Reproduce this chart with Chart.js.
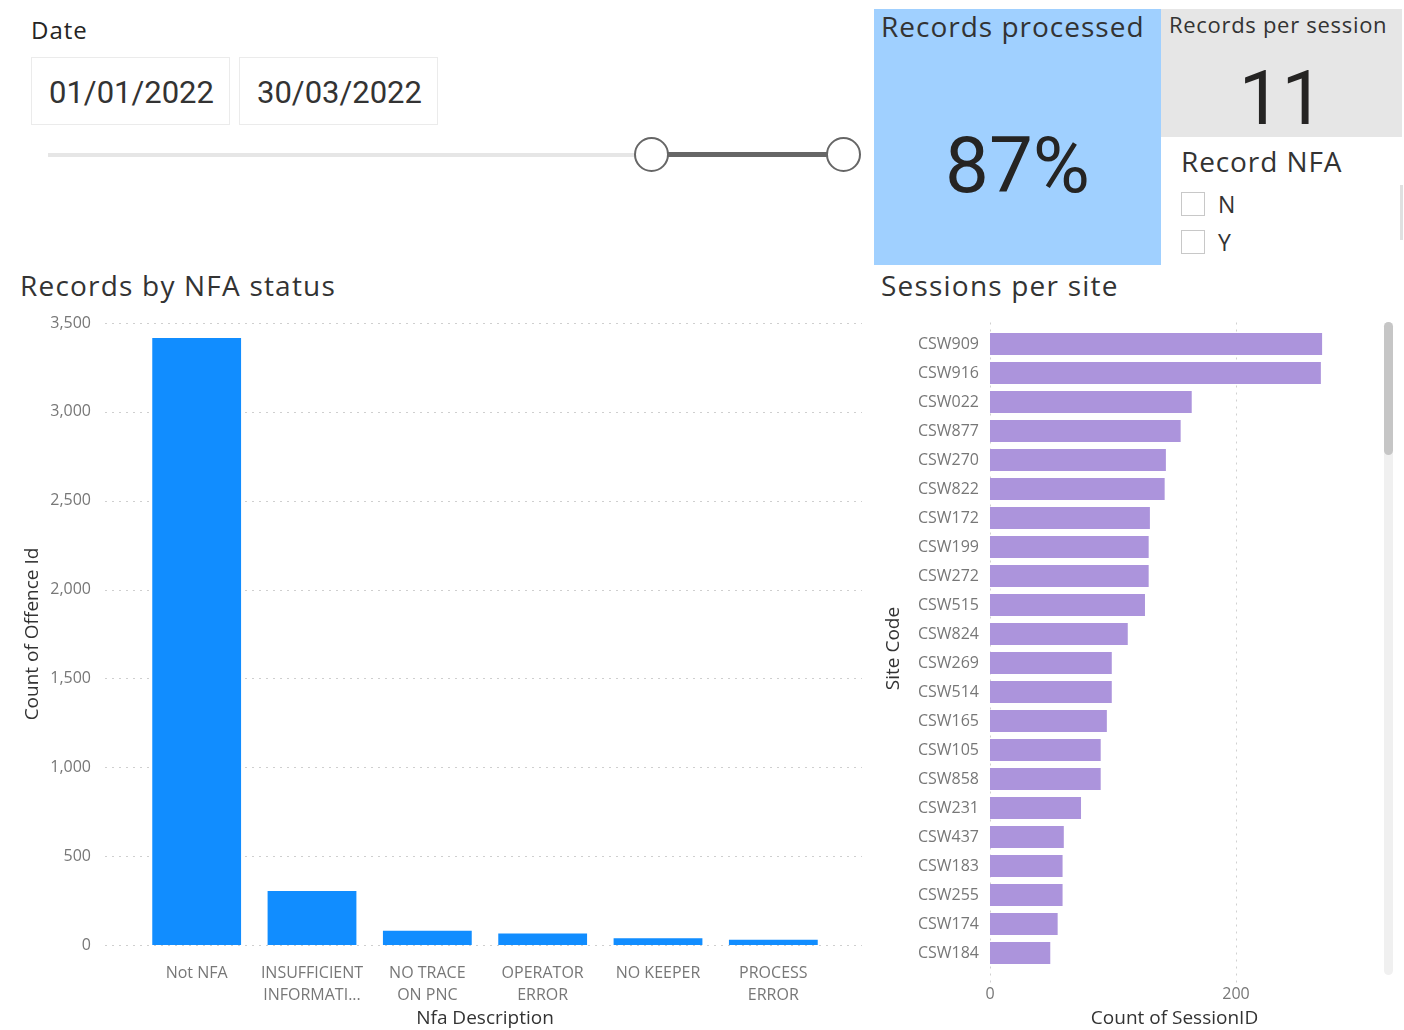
<!DOCTYPE html>
<html>
<head>
<meta charset="utf-8">
<script src="https://cdn.jsdelivr.net/npm/chart.js@4.4.0/dist/chart.umd.min.js"></script>
<style>
  body { margin: 0; width: 1404px; height: 1030px; background: #fff; position: relative; overflow: hidden; font-family: 'Open Sans', sans-serif; color: #252423; }
  .abs { position: absolute; }
  .lbl { line-height: 1; white-space: nowrap; }
  .datebox { position: absolute; top: 57px; height: 68px; border: 1px solid #ebebeb; box-sizing: border-box; font-family: Roboto, sans-serif; font-size: 31px; color: #333; line-height: 70px; padding-left: 17px; }
  .chk { position: absolute; width: 24px; height: 24px; border: 1px solid #c8c8c8; box-sizing: border-box; background: #fff; }
</style>
</head>
<body>

<div class="abs lbl" style="left:31px; top:18px; font-size:24px; letter-spacing:1px;">Date</div>
<div class="datebox" style="left:31px; width:199px;">01/01/2022</div>
<div class="datebox" style="left:239px; width:199px;">30/03/2022</div>

<!-- date slider -->
<div class="abs" style="left:48px; top:153px; width:603px; height:4px; background:#e6e6e6;"></div>
<div class="abs" style="left:651px; top:152px; width:192px; height:5px; background:#666;"></div>
<div class="abs" style="left:634px; top:137px; width:31px; height:31px; border:2.5px solid #666; border-radius:50%; background:#fff;"></div>
<div class="abs" style="left:826px; top:137px; width:31px; height:31px; border:2.5px solid #666; border-radius:50%; background:#fff;"></div>

<!-- cards -->
<div class="abs" style="left:874px; top:9px; width:287px; height:256px; background:#a0d0ff;"></div>
<div class="abs lbl" style="left:881px; top:12px; font-size:28px; letter-spacing:1px; color:#333;">Records processed</div>
<div class="abs lbl" style="left:874px; width:287px; top:127px; text-align:center; font-family:Roboto, sans-serif; font-size:78px; color:#252423;">87%</div>

<div class="abs" style="left:1161px; top:9px; width:241px; height:128px; background:#e6e6e6;"></div>
<div class="abs lbl" style="left:1169px; top:13px; font-size:22px; letter-spacing:0.7px; color:#333;">Records per session</div>
<div class="abs lbl" style="left:1161px; width:241px; top:60px; text-align:center; font-family:Roboto, sans-serif; font-size:76px; color:#252423;">11</div>

<div class="abs lbl" style="left:1181px; top:147px; font-size:28px; letter-spacing:0.9px; color:#333;">Record NFA</div>
<div class="chk" style="left:1181px; top:192px;"></div>
<div class="abs lbl" style="left:1218px; top:193px; font-size:23px; color:#333;">N</div>
<div class="chk" style="left:1181px; top:230px;"></div>
<div class="abs lbl" style="left:1218px; top:231px; font-size:23px; color:#333;">Y</div>
<div class="abs" style="left:1400px; top:185px; width:3px; height:55px; background:#e0e0e0;"></div>

<!-- chart titles -->
<div class="abs lbl" style="left:20px; top:271px; font-size:28px; letter-spacing:1.2px; color:#333;">Records by NFA status</div>
<div class="abs lbl" style="left:881px; top:271px; font-size:28px; letter-spacing:1.2px; color:#333;">Sessions per site</div>

<div class="abs" style="left:0px; top:300px; width:870px; height:730px;"><canvas id="nfaChart"></canvas></div>
<div class="abs" style="left:875px; top:315px; width:505px; height:715px;"><canvas id="siteChart"></canvas></div>

<!-- scrollbar of the site visual -->
<div class="abs" style="left:1384px; top:322px; width:9px; height:653px; background:#f0f0f0; border-radius:5px;"></div>
<div class="abs" style="left:1384px; top:322px; width:9px; height:133px; background:#c6c6c6; border-radius:5px;"></div>

<script>
// records by nfa status
const nfaLabels = ['Not NFA', ['INSUFFICIENT', 'INFORMATI...'], ['NO TRACE', 'ON PNC'], ['OPERATOR', 'ERROR'], 'NO KEEPER', ['PROCESS', 'ERROR']];
const nfaCounts = [3415, 304, 80, 65, 38, 30];
const nfaTicksMax = 3500;

// sessions per site (visible part of the scrolling list)
const siteCodes = ['CSW909', 'CSW916', 'CSW022', 'CSW877', 'CSW270', 'CSW822', 'CSW172', 'CSW199', 'CSW272', 'CSW515', 'CSW824',
  'CSW269', 'CSW514', 'CSW165', 'CSW105', 'CSW858', 'CSW231', 'CSW437', 'CSW183', 'CSW255', 'CSW174', 'CSW184'];
const sessionCounts = [270, 269, 164, 155, 143, 142, 130, 129, 129, 126, 112, 99, 99, 95, 90, 90, 74, 60, 59, 59, 55, 49];

const tickFont = { family: "'Segoe UI', 'Open Sans', sans-serif", size: 16, lineHeight: 1.375 };
const titleFont = { family: "'Open Sans', sans-serif", size: 19 };

// fixed axis sizes, and no extra label padding pushed into the plot area
function fixSize(w, h) {
  return function (scale) {
    if (w) scale.width = w;
    if (h) scale.height = h;
    scale.paddingTop = 0;
    scale.paddingBottom = 0;
    scale.paddingLeft = 0;
    scale.paddingRight = 0;
  };
}

// dotted grid lines that run a bit past the plot area, like power bi does
const extGrid = {
  id: 'extGrid',
  beforeDatasetsDraw(chart, args, opts) {
    const sc = chart.scales[opts.axis];
    const a = chart.chartArea;
    const ctx = chart.ctx;
    ctx.save();
    ctx.strokeStyle = opts.color;
    ctx.lineWidth = 1;
    ctx.setLineDash(opts.dash);
    sc.ticks.forEach((t, i) => {
      const p = Math.round(sc.getPixelForTick(i)) + 0.5;
      ctx.beginPath();
      if (opts.axis === 'y') {
        ctx.moveTo(a.left - opts.before, p);
        ctx.lineTo(a.right + opts.after, p);
      } else {
        ctx.moveTo(p, a.top - opts.before);
        ctx.lineTo(p, a.bottom + opts.after);
      }
      ctx.stroke();
    });
    ctx.restore();
  }
};

new Chart(document.getElementById('nfaChart'), {
  type: 'bar',
  data: {
    labels: nfaLabels,
    datasets: [{
      data: nfaCounts,
      backgroundColor: '#118DFF',
      barPercentage: 0.77,
      categoryPercentage: 1
    }]
  },
  options: {
    responsive: true,
    maintainAspectRatio: false,
    animation: false,
    layout: { padding: { top: 23, right: 39, bottom: 0, left: 0 } },
    plugins: {
      legend: { display: false },
      tooltip: { enabled: false },
      extGrid: { axis: 'y', before: 34, after: 31, color: '#cfcfcf', dash: [2, 5] }
    },
    scales: {
      x: {
        grid: { display: false, drawTicks: false },
        border: { display: false },
        ticks: { color: '#777', font: tickFont, padding: 17, maxRotation: 0, autoSkip: false },
        title: { display: true, text: 'Nfa Description', color: '#333', font: titleFont, padding: { top: 0, bottom: 0 } },
        afterFit: fixSize(0, 85)
      },
      y: {
        min: 0,
        max: nfaTicksMax,
        grid: { display: false, drawTicks: false },
        border: { display: false },
        ticks: { stepSize: 500, color: '#777', font: tickFont, padding: 48 },
        title: { display: true, text: 'Count of Offence Id', color: '#333', font: titleFont, padding: { top: 21, bottom: 0 } },
        afterFit: fixSize(139, 0)
      }
    }
  },
  plugins: [extGrid]
});

new Chart(document.getElementById('siteChart'), {
  type: 'bar',
  data: {
    labels: siteCodes,
    datasets: [{
      data: sessionCounts,
      backgroundColor: '#AC94DC',
      barPercentage: 0.76,
      categoryPercentage: 1
    }]
  },
  options: {
    indexAxis: 'y',
    responsive: true,
    maintainAspectRatio: false,
    animation: false,
    layout: { padding: { top: 14.5, right: 21, bottom: 0, left: 0 } },
    plugins: {
      legend: { display: false },
      tooltip: { enabled: false },
      extGrid: { axis: 'x', before: 7, after: 17, color: '#d0d0d0', dash: [2, 5] }
    },
    scales: {
      x: {
        min: 0,
        max: 300,
        grid: { display: false, drawTicks: false },
        border: { display: false },
        ticks: { stepSize: 200, includeBounds: false, color: '#777', font: tickFont, padding: 16 },
        title: { display: true, text: 'Count of SessionID', color: '#333', font: titleFont, padding: { top: 0, bottom: 0 } },
        afterFit: fixSize(0, 62.5)
      },
      y: {
        grid: { display: false, drawTicks: false },
        border: { display: false },
        ticks: { color: '#777', font: tickFont, padding: 11, autoSkip: false },
        title: { display: true, text: 'Site Code', color: '#333', font: titleFont, padding: { top: 7, bottom: 0 } },
        afterFit: fixSize(115, 0)
      }
    }
  },
  plugins: [extGrid]
});
</script>
</body>
</html>
